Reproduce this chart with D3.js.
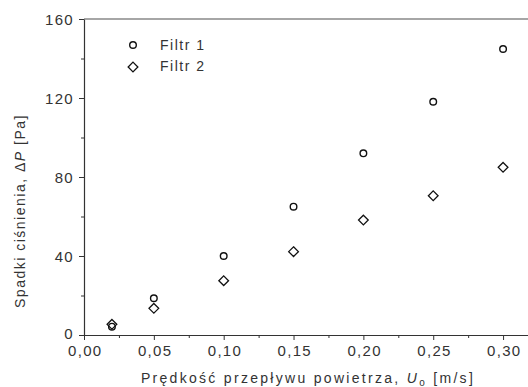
<!DOCTYPE html>
<html>
<head>
<meta charset="utf-8">
<script src="https://cdn.jsdelivr.net/npm/d3@7"></script>
<style>
  body { margin: 0; background: #fff; }
  svg { display: block; font-family: "Liberation Sans", Arial, sans-serif; }
  .tick text { fill: #333; font-size: 15px; letter-spacing: 1.3px; }
</style>
</head>
<body>
<svg id="chart" width="528" height="387"></svg>
<script>
// velocity U0 [m/s]
const velocity = [0.02, 0.05, 0.10, 0.15, 0.20, 0.25, 0.30];
// pressure drop [Pa]
const filtr1 = [4.2, 18.6, 40.0, 65.0, 92.0, 118.1, 144.8];
const filtr2 = [5.4, 13.5, 27.5, 42.2, 58.2, 70.5, 84.9];
const xTicks = [0, 0.05, 0.10, 0.15, 0.20, 0.25, 0.30];
const xMinor = [0.025, 0.075, 0.125, 0.175, 0.225, 0.275];
const yTicks = [0, 40, 80, 120, 160];
const yMinor = [20, 60, 100, 140];
const seriesNames = ["Filtr 1", "Filtr 2"];

const svg = d3.select("#chart");
const axisColor = "#333";

const x = d3.scaleLinear().domain([0, 0.32]).range([84, 531]);
const y = d3.scaleLinear().domain([0, 160]).range([335, 19]);

// top frame line (grey)
svg.append("line")
    .attr("x1", x(0)).attr("x2", x(0.32))
    .attr("y1", y(160)).attr("y2", y(160))
    .attr("stroke", "#888").attr("stroke-width", 1.5);

// minor ticks
svg.append("g")
    .attr("transform", `translate(0,${y(0)})`)
    .call(d3.axisBottom(x).tickValues(xMinor).tickSize(3).tickFormat(""))
    .call(g => g.select(".domain").remove())
    .call(g => g.selectAll("line").attr("stroke", axisColor));

svg.append("g")
    .attr("transform", `translate(${x(0)},0)`)
    .call(d3.axisLeft(y).tickValues(yMinor).tickSize(3).tickFormat(""))
    .call(g => g.select(".domain").remove())
    .call(g => g.selectAll("line").attr("stroke", axisColor));

// x axis
svg.append("g")
    .attr("transform", `translate(0,${y(0)})`)
    .call(d3.axisBottom(x).tickValues(xTicks).tickSize(5).tickSizeOuter(0).tickPadding(5)
        .tickFormat(d => d3.format(".2f")(d).replace(".", ",")))
    .call(g => g.select(".domain").attr("stroke", axisColor).attr("stroke-width", 1.2))
    .call(g => g.selectAll("line").attr("stroke", axisColor))
    .call(g => g.selectAll("text").attr("dx", "0.05em"));

// y axis
svg.append("g")
    .attr("transform", `translate(${x(0)},0)`)
    .call(d3.axisLeft(y).tickValues(yTicks).tickSize(5).tickSizeOuter(0).tickPadding(5))
    .call(g => g.select(".domain").attr("stroke", axisColor).attr("stroke-width", 1.2))
    .call(g => g.selectAll("line").attr("stroke", axisColor))
    .call(g => g.selectAll("text").attr("dy", d => d === 0 ? "0.25em" : "0.35em"));

// axis titles
const xt = svg.append("text")
    .attr("x", 308).attr("y", 383)
    .attr("text-anchor", "middle")
    .attr("fill", "#333").attr("font-size", 14).attr("letter-spacing", 2.3);
xt.append("tspan").text("Prędkość przepływu powietrza, ");
xt.append("tspan").attr("font-style", "italic").text("U");
xt.append("tspan").attr("font-size", 10).attr("dy", 3).text("o");
xt.append("tspan").attr("dy", -3).text(" [m/s]");

const yt = svg.append("text")
    .attr("transform", "translate(25,211) rotate(-90)")
    .attr("text-anchor", "middle")
    .attr("fill", "#333").attr("font-size", 14).attr("letter-spacing", 1.5);
yt.append("tspan").text("Spadki ciśnienia, Δ");
yt.append("tspan").attr("font-style", "italic").text("P");
yt.append("tspan").text(" [Pa]");

// markers
const diamond = d3.symbol().type(d3.symbolDiamond2).size(60);

svg.append("g").selectAll("circle")
    .data(velocity.map((v, i) => [v, filtr1[i]]))
    .join("circle")
    .attr("cx", d => x(d[0])).attr("cy", d => y(d[1]))
    .attr("r", 3.3)
    .attr("fill", "none").attr("stroke", "#111").attr("stroke-width", 1.4);

svg.append("g").selectAll("path")
    .data(velocity.map((v, i) => [v, filtr2[i]]))
    .join("path")
    .attr("d", diamond)
    .attr("transform", d => `translate(${x(d[0])},${y(d[1])})`)
    .attr("fill", "none").attr("stroke", "#111").attr("stroke-width", 1.3);

// legend
const legend = svg.append("g");
legend.append("circle")
    .attr("cx", 133).attr("cy", 45).attr("r", 3.3)
    .attr("fill", "none").attr("stroke", "#111").attr("stroke-width", 1.4);
legend.append("path")
    .attr("d", diamond)
    .attr("transform", "translate(133,67)")
    .attr("fill", "none").attr("stroke", "#111").attr("stroke-width", 1.3);
legend.selectAll("text")
    .data(seriesNames)
    .join("text")
    .attr("x", 160)
    .attr("y", (d, i) => 50 + i * 21)
    .attr("fill", "#333").attr("font-size", 14).attr("letter-spacing", 1.5)
    .text(d => d);
</script>
</body>
</html>
